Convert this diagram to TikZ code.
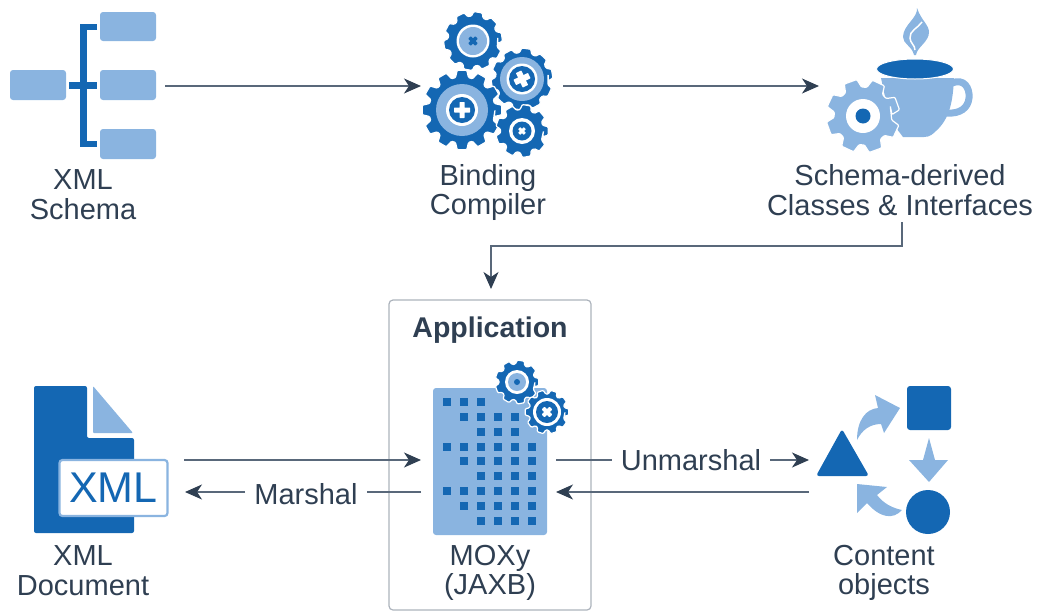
\documentclass[tikz,border=0pt]{standalone}
\usepackage{fontspec}
\setmainfont{Liberation Sans}
\usepackage{xcolor}
\usepackage{tikz}
\usetikzlibrary{
  arrows.meta,
  calc
}
\definecolor{iconblue}{HTML}{1467B3}
\definecolor{iconlight}{HTML}{8AB4E0}
\definecolor{inktext}{HTML}{2F3F52}
\definecolor{inkline}{HTML}{59687A}
\newcommand{\gear}[7]{% position, outer, root, teeth, phase, fill, edge
  \begin{scope}[shift={(#1)},rotate=#5]
    \fill[#6,draw=#7,line width=1.2pt,rounded corners=1pt] (0:#3)
      \foreach \i [evaluate=\i as \a using \i*360/#4, evaluate=\i as \s using 360/#4] in {1,...,#4} {
        -- (\a-0.38*\s:#3) -- (\a-0.23*\s:#2) -- (\a+0.23*\s:#2) -- (\a+0.38*\s:#3)
      } -- cycle;
  \end{scope}}
\newcommand{\cross}[5]{% position, arm, width, angle, colour
  \fill[#5,rotate around={#4:(#1)},rounded corners=0.5pt]
    ($(#1)+(-#2,-#3)$) rectangle ($(#1)+(#2,#3)$)
    ($(#1)+(-#3,-#2)$) rectangle ($(#1)+(#3,#2)$);}
\tikzset{
  label/.style={
    font=\fontsize{29}{29.5}\selectfont,
    text=inktext,
    align=center,
    inner sep=0pt},
  flow/.style={
    draw=inkline,
    line width=1.6pt,
    -{Stealth[length=17pt,width=15pt,inset=5pt,inktext]}},
  plain/.style={
    draw=inkline,
    line width=1.6pt},
  tile/.style={
    fill=iconlight,
    rounded corners=3pt}
  }
\begin{document}
\begin{tikzpicture}[x=1pt,y=-1pt]
    \useasboundingbox (0,0) rectangle (1040,611);
    % schema icon
    \fill [tile] (10,70) rectangle (66,100);
    \fill [tile] (100,12) rectangle (156,41);
    \fill [tile] (100,70) rectangle (156,100);
    \fill [tile] (100,129) rectangle (156,159);
    \draw [iconblue,line width=6.5pt] (97,27) -- (83.5,27) -- (83.5,144) -- (97,144);
    \draw [iconblue,line width=6.5pt] (69,85.5) -- (97,85.5);
    % compiler icon
    \gear{473,41}{29.5}{25}{10}{8}{iconblue}{white}
    \fill [white] (473,41) circle (16.5);
    \fill [iconlight] (473,41) circle (14);
    \cross{473,41}{5}{1.8}{45}{iconblue}
    \gear{522,79}{31}{26.5}{10}{10}{iconblue}{white}
    \fill [iconlight] (522,79) circle (22);
    \fill [white] (522,79) circle (15.5);
    \fill [iconblue] (522,79) circle (13);
    \cross{522,79}{8}{3}{25}{white}
    \gear{462,110}{40}{33}{12}{0}{iconblue}{white}
    \fill [iconlight] (462,110) circle (26);
    \fill [white] (462,110) circle (16);
    \fill [iconblue] (462,110) circle (13);
    \cross{462,110}{8}{2.5}{0}{white}
    \gear{522,131}{26.5}{21.5}{9}{0}{iconblue}{white}
    \fill [white] (522,131) circle (13);
    \fill [iconblue] (522,131) circle (9.5);
    \cross{522,131}{4}{1.5}{45}{white}
    % classes icon
    \fill [iconlight] (917,8) .. controls (918,18) and (903,25) .. (903,37)
      .. controls (903,44) and (912,46) .. (914,55) -- (916,55)
      .. controls (917,47) and (929,42) .. (929,32)
      .. controls (929,25) and (921,20) .. cycle;
    \draw [white,line width=1.5pt] (922,22) .. controls (918,28) and (909,31) .. (910,38)
      .. controls (910,43) and (915,45) .. (915,50);
    \fill [iconlight] (881,78) -- (954,78) .. controls (953,100) and (950,118) .. (937,130)
      .. controls (933,134) and (930,137) .. (924,137) -- (903,137) -- (890,120) -- cycle;
    \draw [iconlight,line width=7pt] (952,83) .. controls (964,78) and (970,88) .. (969,98)
      .. controls (968,108) and (960,114) .. (947,113);
    \fill [iconblue,draw=white,line width=1pt] (915,69) ellipse (38.5 and 10);
    \gear{863,116}{37}{29}{8}{20}{iconlight}{white}
    \fill [white] (863,116) circle (17);
    \fill [iconblue] (863,116) circle (7.5);
    % document icon
    \fill [iconblue,rounded corners=2pt] (34,386) -- (87,386) -- (87,438) -- (134,438)
      -- (134,533) -- (34,533) -- cycle;
    \fill [iconlight,rounded corners=1pt] (93,386) -- (133,433) -- (93,433) -- cycle;
    \node [draw=iconlight,fill=white,line width=2.2pt,rounded corners=3pt,
      minimum width=108pt,minimum height=56pt,inner sep=0pt,text=iconblue,
      font=\fontsize{43}{43}\selectfont] (xmlbox) at (113.5,488) {XML};
    % moxy icon
    \fill [tile] (433,388) rectangle (547,535);
    \foreach \row/\cols in {402/{447,464,481},417/{464,481,498,515},432/{481,498,515},
      447/{447,464,481,498,515,532},461/{464,481,498,515,532},476/{481,498,515,532},
      491/{447,464,481,498,515,532},506/{464,481,498,515,532},521/{481,498,515,532}}
      \foreach \col in \cols
        \fill [iconblue] (\col-4,\row-4) rectangle (\col+4,\row+4);
    \gear{517,382}{22}{18}{9}{0}{iconblue}{white}
    \fill [white] (517,382) circle (12);
    \fill [iconlight] (517,382) circle (9);
    \fill [iconblue] (517,382) circle (3);
    \gear{547,412}{22}{18}{10}{0}{iconblue}{white}
    \fill [white] (547,412) circle (14);
    \fill [iconblue] (547,412) circle (11);
    \cross{547,412}{5.5}{2}{45}{white}
    % content icon
    \fill [iconblue,rounded corners=3pt] (842,429) -- (869,476) -- (816,476) -- cycle;
    \fill [iconblue,rounded corners=3pt] (907,386) rectangle (951,430);
    \fill [iconblue] (928,512) circle (22);
    \fill [iconlight] (857,440) .. controls (857,420) and (866,409) .. (878,408)
      -- (875,395) -- (900,408) -- (884,433) -- (881,424)
      .. controls (870,424) and (862,430) .. cycle;
    \fill [iconlight] (929,438) -- (935,460) -- (948,460) -- (929,482) -- (909,460)
      -- (923,460) -- cycle;
    \fill [iconlight] (857,484) -- (887,487) -- (877,495)
      .. controls (883,503) and (892,508) .. (902,510)
      .. controls (893,520) and (880,518) .. (867,503) -- (857,513) -- cycle;
    % box
    \node [draw=inkline!50,line width=1.2pt,rounded corners=4pt,minimum width=202pt,
      minimum height=310pt,inner sep=0pt] (appbox) at (490,455) {};
    \node [label,font=\bfseries\fontsize{28.5}{30}\selectfont] (app) at (490,330) {Application};
    % labels
    \node [label] (xsd) at (83,194.5) {XML\\Schema};
    \node [label] (compiler) at (488,192.5) {Binding\\Compiler};
    \node [label] (classes) at (900,190) {Schema-derived\\Classes \& Interfaces};
    \node [label] (moxy) at (490,573) {MOXy\\(JAXB)};
    \node [label] (xmldoc) at (83,570.5) {XML\\Document};
    \node [label] (content) at (884,573) {Content\\objects};
    \node [label] (marshal) at (306,494) {Marshal};
    \node [label] (unmarshal) at (691,460) {Unmarshal};
    % connector ends
    \coordinate (schemaE) at (165,86);
    \coordinate (compilerW) at (421,86);
    \coordinate (compilerE) at (563,86);
    \coordinate (classesW) at (819,86);
    \coordinate (classesS) at (902,222);
    \coordinate (appN) at (491,289);
    \coordinate (docE1) at (184,460);
    \coordinate (docE2) at (185,492);
    \coordinate (moxyW1) at (421,460);
    \coordinate (moxyW2) at (421,492);
    \coordinate (moxyE1) at (556,460);
    \coordinate (moxyE2) at (556,492);
    \coordinate (objW1) at (809,460);
    \coordinate (objW2) at (809,492);
    \coordinate (marshalE) at (367,492);
    \coordinate (marshalW) at (245,492);
    \coordinate (unmarshalW) at (612,460);
    \coordinate (unmarshalE) at (770,460);
    \draw [flow] (schemaE) -- (compilerW);
    \draw [flow] (compilerE) -- (classesW);
    \draw [flow] (classesS) -- ++(0,24) -| (appN);
    \draw [flow] (docE1) -- (moxyW1);
    \draw [plain] (moxyW2) -- (marshalE);
    \draw [flow] (marshalW) -- (docE2);
    \draw [plain] (moxyE1) -- (unmarshalW);
    \draw [flow] (unmarshalE) -- (objW1);
    \draw [flow] (objW2) -- (moxyE2);
  \end{tikzpicture}
\end{document}
